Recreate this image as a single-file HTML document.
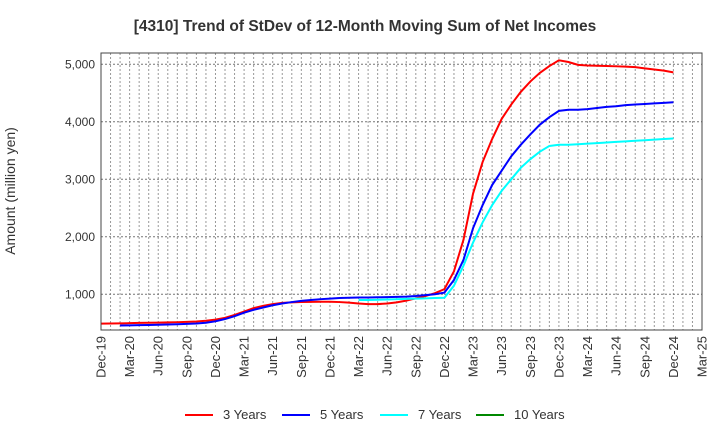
<!DOCTYPE html>
<html><head><meta charset="utf-8"><style>
body{margin:0;background:#fff;font-family:"Liberation Sans",sans-serif}
</style></head><body>
<svg id="c" width="720" height="440" xmlns="http://www.w3.org/2000/svg">
<text x="365" y="31" text-anchor="middle" font-size="15.5" font-weight="bold" fill="#333">[4310]  Trend of StDev of 12-Month Moving Sum of Net Incomes</text>
<text transform="translate(15,191) rotate(-90)" text-anchor="middle" font-size="14" fill="#333">Amount (million yen)</text>
<g id="grid"></g><g id="series"></g><g id="axes"></g><g id="legend"></g>
</svg>
<script>
const xLabels=["Dec-19","Mar-20","Jun-20","Sep-20","Dec-20","Mar-21","Jun-21","Sep-21","Dec-21","Mar-22","Jun-22","Sep-22","Dec-22","Mar-23","Jun-23","Sep-23","Dec-23","Mar-24","Jun-24","Sep-24","Dec-24","Mar-25"];
const yTicks=[1000,2000,3000,4000,5000];
const red=[490,492,495,498,502,505,508,512,515,520,528,540,560,590,640,700,760,800,830,850,860,865,868,870,870,865,855,840,830,830,840,860,890,930,970,1020,1090,1400,1950,2750,3300,3700,4050,4300,4520,4700,4850,4970,5070,5040,4990,4980,4975,4970,4965,4960,4950,4930,4910,4890,4860];
const redStart=0;
const blue=[458,460,463,466,470,475,480,485,492,505,530,570,620,680,730,770,810,840,865,885,900,915,925,935,940,945,945,948,950,955,960,970,985,1000,1030,1250,1600,2150,2550,2900,3150,3400,3600,3780,3950,4080,4190,4210,4210,4220,4240,4260,4270,4290,4300,4310,4320,4330,4340];
const blueStart=2;
const cyan=[900,900,905,910,915,920,925,930,935,940,1150,1500,1900,2250,2550,2800,3000,3200,3350,3480,3580,3600,3600,3610,3620,3630,3640,3650,3660,3670,3680,3690,3700,3710];
const cyanStart=27;
const green=[];
const L=101,R=702,T=53,B=330,months=63;
const X=i=>L+i*(R-L)/months;
const Y=v=>351.8-v*0.0575;
const NS="http://www.w3.org/2000/svg";
function mk(t,a,p){const e=document.createElementNS(NS,t);for(const k in a)e.setAttribute(k,a[k]);p.appendChild(e);return e;}
const grid=document.getElementById('grid'),axes=document.getElementById('axes'),ser=document.getElementById('series'),leg=document.getElementById('legend');
for(let i=1;i<months;i++){const l=mk('line',{x1:X(i),x2:X(i),y1:T,y2:B,stroke:'#999','stroke-dasharray':'2,2','stroke-width':1},grid);

}
yTicks.forEach(v=>{const l=mk('line',{x1:L,x2:R,y1:Y(v),y2:Y(v),stroke:'#777','stroke-dasharray':'2,2','stroke-width':1},grid);


const t=mk('text',{x:L-6,y:Y(v)+4,'text-anchor':'end','font-size':12,fill:'#333'},axes);t.textContent=v.toLocaleString('en-US');

});
const fr=mk('rect',{x:L,y:T,width:R-L,height:B-T,fill:'none',stroke:'#444','stroke-width':1},axes);


xLabels.forEach((s,k)=>{const x=X(k*3);const t=mk('text',{transform:`translate(${x+4.5},${B+6}) rotate(-90)`,'text-anchor':'end','font-size':13,fill:'#333'},axes);t.textContent=s;

});
function line(arr,start,col,name){if(!arr.length)return;const p=mk('polyline',{points:arr.map((v,j)=>X(start+j)+','+Y(v)).join(' '),fill:'none',stroke:col,'stroke-width':2},ser);

}
line(red,redStart,'#f00','line-3-years');
line(blue,blueStart,'#00f','line-5-years');
line(cyan,cyanStart,'#0ff','line-7-years');
line(green,0,'#080','line-10-years');
[["3 Years","#f00",185],["5 Years","#00f",282],["7 Years","#0ff",380],["10 Years","#080",476]].forEach(([n,c,x])=>{
const g=mk('g',{},leg);


mk('line',{x1:x,x2:x+28,y1:415,y2:415,stroke:c,'stroke-width':2},g);
const t=mk('text',{x:x+38,y:419,'font-size':13,fill:'#333'},g);t.textContent=n;});
</script>
</body></html>
